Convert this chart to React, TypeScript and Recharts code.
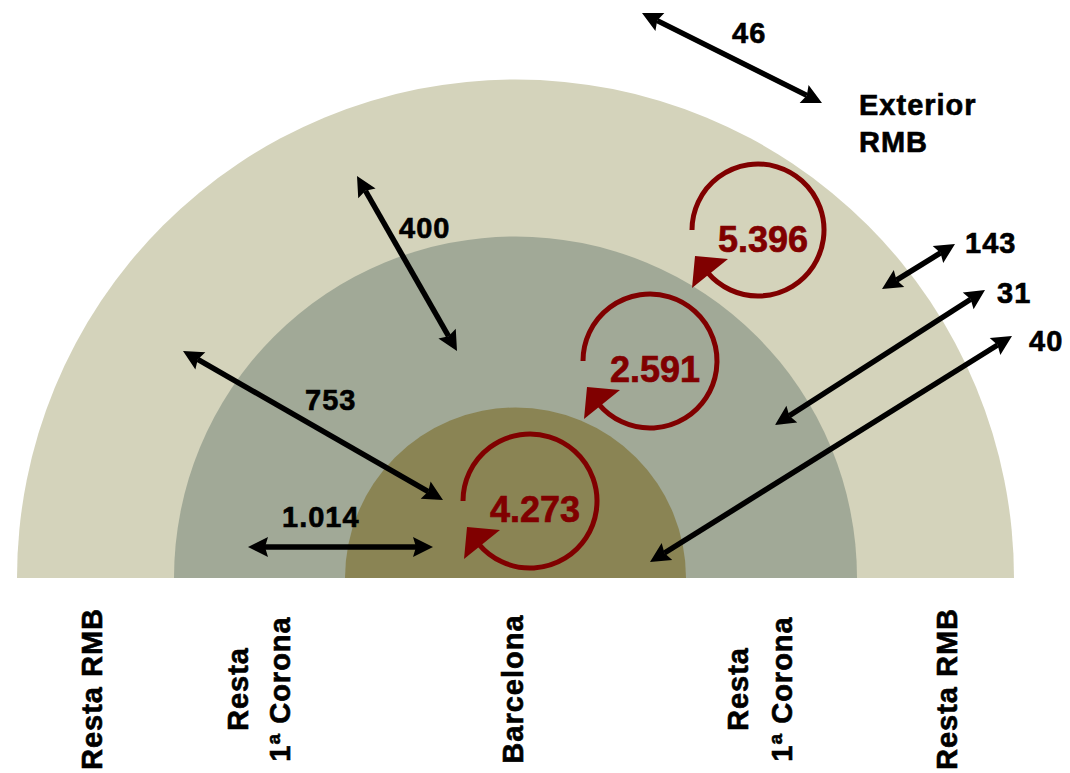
import React from 'react';
import { PieChart, Pie, Cell } from 'recharts';

// Zones, from the centre outwards
const zoneNames = ['Barcelona', 'Resta 1ª Corona', 'Resta RMB'];
const zoneColors = ['#8A8454', '#A1A997', '#D4D3BB'];
const zoneShare = [1, 1, 1];

// Movements between zones (both directions)
const flowValues = [46, 400, 753, 1014, 143, 31, 40];
// Movements inside each zone
const internalValues = [5396, 2591, 4273];
const outsideLabel = ['Exterior', 'RMB'];

// Layout of the diagram
const CX = 515.5;
const CY = 578;
const ringRadii = [170.5, 341.5, 498.5];

const flowArrows = [
  { a: [642, 13], b: [822, 103], label: [732, 43] },
  { a: [357, 176], b: [457, 351], label: [399, 238] },
  { a: [183, 351], b: [443, 500], label: [305, 410] },
  { a: [248, 547], b: [433, 547], label: [282, 527] },
  { a: [955, 244], b: [882, 289], label: [965, 253] },
  { a: [985, 290], b: [775, 425], label: [997, 303] },
  { a: [1012, 336], b: [650, 562], label: [1029, 351] },
];

const loops = [
  { c: [758, 230], r: 66, label: [718, 252] },
  { c: [650, 361], r: 67, label: [610, 382] },
  { c: [530, 501], r: 67, label: [490, 522] },
];

const bottomLabels = [
  { lines: ['Resta RMB'], x: [102] },
  { lines: ['Resta', '1ª Corona'], x: [248, 290] },
  { lines: ['Barcelona'], x: [523] },
  { lines: ['Resta', '1ª Corona'], x: [748, 792] },
  { lines: ['Resta RMB'], x: [957] },
];

const FONT = '"Liberation Sans", Arial, Helvetica, sans-serif';
const DARK_RED = '#800000';

const fmt = (v: number) => String(v).replace(/\B(?=(\d{3})+(?!\d))/g, '.');

function headPoints(tip: number[], from: number[], len: number, half: number) {
  const dx = tip[0] - from[0];
  const dy = tip[1] - from[1];
  const d = Math.hypot(dx, dy);
  const ux = dx / d;
  const uy = dy / d;
  const bx = tip[0] - ux * len;
  const by = tip[1] - uy * len;
  const nx = bx + ux * 3;
  const ny = by + uy * 3;
  return {
    pts: `${tip[0]},${tip[1]} ${bx - uy * half},${by + ux * half} ${nx},${ny} ${bx + uy * half},${by - ux * half}`,
    base: [tip[0] - ux * (len - 3), tip[1] - uy * (len - 3)],
  };
}

const blackText = {
  fontFamily: FONT,
  fontWeight: 'bold' as const,
  fontSize: 29,
  letterSpacing: 1,
  fill: '#000',
  stroke: '#000',
  strokeWidth: 0.6,
};

const Overlay = () => {
  return (
    <g>
      {flowArrows.map((f, i) => {
        const h1 = headPoints(f.a, f.b, 20, 10);
        const h2 = headPoints(f.b, f.a, 20, 10);
        return (
          <g key={`f${i}`}>
            <line x1={h1.base[0]} y1={h1.base[1]} x2={h2.base[0]} y2={h2.base[1]} stroke="#000" strokeWidth={5.5} />
            <polygon points={h1.pts} fill="#000" />
            <polygon points={h2.pts} fill="#000" />
            <text x={f.label[0]} y={f.label[1]} {...blackText}>
              {fmt(flowValues[i])}
            </text>
          </g>
        );
      })}
      {loops.map((l, i) => {
        const [cx, cy] = l.c;
        const r = l.r;
        const a0 = Math.PI;
        const a1 = (140 * Math.PI) / 180;
        const sx = cx + r * Math.cos(a0);
        const sy = cy + r * Math.sin(a0);
        const ex = cx + r * Math.cos(a1);
        const ey = cy + r * Math.sin(a1);
        const tri = [
          [cx - 66, cy + 58],
          [cx - 63, cy + 26],
          [cx - 30, cy + 29],
        ]
          .map((p) => p.join(','))
          .join(' ');
        return (
          <g key={`l${i}`}>
            <path
              d={`M ${sx} ${sy} A ${r} ${r} 0 1 1 ${ex} ${ey}`}
              fill="none"
              stroke={DARK_RED}
              strokeWidth={5}
            />
            <polygon points={tri} fill={DARK_RED} />
            <text
              x={l.label[0]}
              y={l.label[1]}
              fontFamily={FONT}
              fontWeight="bold"
              fontSize={36}
              fill={DARK_RED}
              stroke={DARK_RED}
              strokeWidth={0.7}
            >
              {fmt(internalValues[i])}
            </text>
          </g>
        );
      })}
      {outsideLabel.map((t, i) => (
        <text key={`o${i}`} x={859} y={115 + i * 37} {...blackText}>
          {t}
        </text>
      ))}
      {bottomLabels.map((b, i) =>
        b.lines.map((t, j) => (
          <text
            key={`b${i}-${j}`}
            x={b.x[j]}
            y={689}
            transform={`rotate(-90, ${b.x[j]}, 689)`}
            textAnchor="middle"
            {...blackText}
          >
            {t}
          </text>
        ))
      )}
    </g>
  );
};

export default function App() {
  const rings = [2, 1, 0];
  return (
    <div style={{ position: 'absolute', left: 0, top: 0, width: 1070, height: 773, background: '#fff' }}>
      <PieChart width={1070} height={773} margin={{ top: 0, right: 0, bottom: 0, left: 0 }}>
        {rings.map((z) => (
          <Pie
            key={zoneNames[z] + z}
            data={[{ name: zoneNames[z], value: zoneShare[z] }]}
            dataKey="value"
            cx={CX}
            cy={CY}
            innerRadius={0}
            outerRadius={ringRadii[z]}
            startAngle={180}
            endAngle={0}
            stroke="none"
            isAnimationActive={false}
          >
            <Cell fill={zoneColors[z]} />
          </Pie>
        ))}
      </PieChart>
      <svg
        width={1070}
        height={773}
        style={{ position: 'absolute', left: 0, top: 0, pointerEvents: 'none' }}
      >
        <Overlay />
      </svg>
    </div>
  );
}
